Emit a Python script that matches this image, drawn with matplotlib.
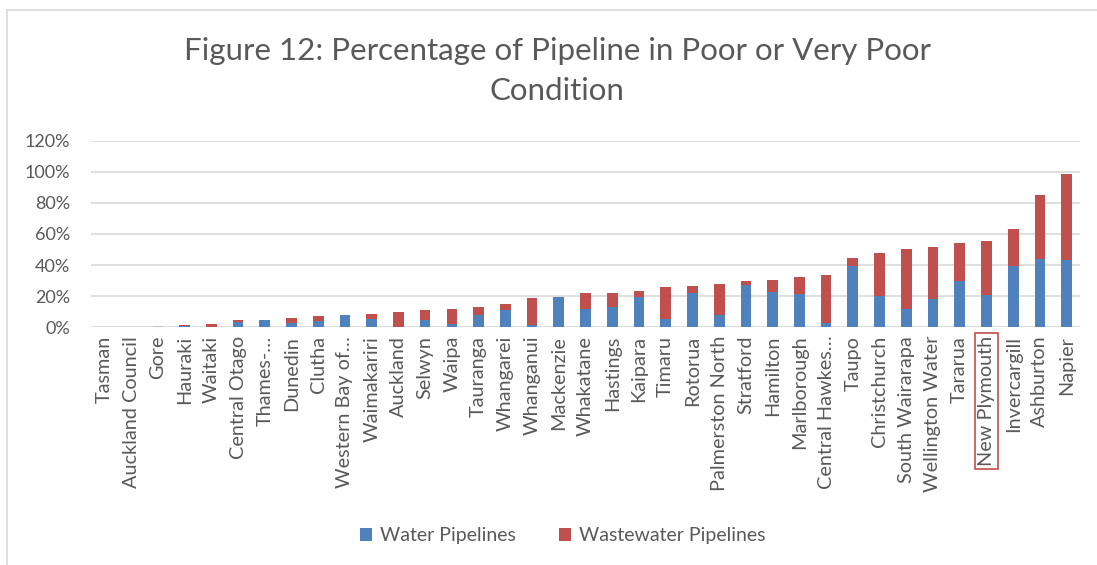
import numpy as np
import matplotlib.pyplot as plt
from matplotlib.ticker import FuncFormatter

plt.rcParams['font.family'] = ['Lato', 'DejaVu Sans']

# data (percent)
councils = ["Tasman", "Auckland Council", "Gore", "Hauraki", "Waitaki",
            "Central Otago", "Thames-\u2026", "Dunedin", "Clutha",
            "Western Bay of\u2026", "Waimakariri", "Auckland", "Selwyn", "Waipa",
            "Tauranga", "Whangarei", "Whanganui", "Mackenzie", "Whakatane",
            "Hastings", "Kaipara", "Timaru", "Rotorua", "Palmerston North",
            "Stratford", "Hamilton", "Marlborough", "Central Hawkes\u2026",
            "Taupo", "Christchurch", "South Wairarapa", "Wellington Water",
            "Tararua", "New Plymouth", "Invercargill", "Ashburton", "Napier"]
water = [0, 0, 0, 1.2, 0, 3.2, 4.7, 3.0, 3.9, 8.0, 5.6, 0, 5.1, 2.1,
         8.0, 11.0, 1.7, 19.8, 11.7, 13.0, 19.3, 5.2, 22.0, 7.8,
         27.2, 23.0, 21.5, 3.0, 39.7, 20.5, 11.7, 18.4, 29.8, 21.0,
         39.3, 44.0, 43.0]
wastewater = [0, 0, 1.0, 0.3, 2.4, 1.5, 0, 3.2, 3.2, 0.2, 3.2, 9.9, 5.8, 9.7,
              5.0, 4.0, 17.2, 0, 10.5, 9.2, 4.0, 20.9, 4.7, 19.8,
              2.4, 7.7, 10.9, 30.7, 5.2, 27.0, 38.4, 33.4, 24.6, 34.5,
              24.2, 41.3, 55.6]
yticks = [0, 20, 40, 60, 80, 100, 120]

blue = "#4F81BD"
red = "#C0504D"
grey = "#595959"

fig = plt.figure(figsize=(10.97, 5.65), dpi=100)
ax = fig.add_axes([0.083, 0.4204, 0.9015, 0.3309])

x = np.arange(len(councils))
b1 = ax.bar(x, water, 0.4, color=blue, label="Water Pipelines", zorder=3)
b2 = ax.bar(x, wastewater, 0.4, bottom=water, color=red,
            label="Wastewater Pipelines", zorder=3)
b2[councils.index("Gore")].set_alpha(0.25)

ax.set_xlim(-0.5, len(councils) - 0.5)
ax.set_ylim(0, 120)
ax.set_yticks(yticks)
ax.yaxis.set_major_formatter(FuncFormatter(lambda v, p: "%d%%" % v))
ax.grid(axis="y", color="#d9d9d9", linewidth=1.2, zorder=0)
for s in ax.spines.values():
    s.set_visible(False)
ax.tick_params(axis="y", length=0, colors=grey, labelsize=13, pad=15)
ax.set_xticks(x)
ax.set_xticklabels(councils, rotation=90, color=grey, fontsize=14.3)
ax.tick_params(axis="x", length=0, pad=6)
for lab in ax.get_xticklabels():
    if lab.get_text() == "New Plymouth":
        lab.set_bbox(dict(facecolor="none", edgecolor=red, linewidth=1.2,
                          pad=2.0))

fig.suptitle("Figure 12: Percentage of Pipeline in Poor or Very Poor\nCondition",
             x=0.508, y=0.935, fontsize=22.5, color=grey, linespacing=1.55)

fig.legend(handles=[b1, b2], loc="center", bbox_to_anchor=(0.513, 0.052),
           ncol=2, frameon=False, fontsize=14, labelcolor=grey,
           handlelength=0.65, handleheight=0.65, columnspacing=2.2,
           handletextpad=0.4)

# outer chart frame
fig.add_artist(plt.Line2D([0.0065, 0.0065], [0, 0.982], color="#d9d9d9",
                          linewidth=1.2, transform=fig.transFigure))
fig.add_artist(plt.Line2D([0.0065, 1.0], [0.982, 0.982], color="#d9d9d9",
                          linewidth=1.2, transform=fig.transFigure))

fig.savefig("out.png", dpi=100)
